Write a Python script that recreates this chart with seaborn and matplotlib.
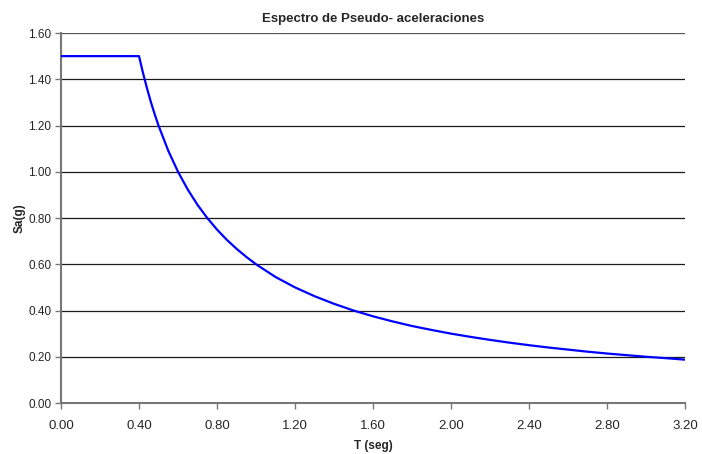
import matplotlib
matplotlib.use("Agg")
import matplotlib.pyplot as plt
import seaborn as sns
import pandas as pd

periodo = [0.00, 0.40, 0.42, 0.44, 0.46, 0.48, 0.50, 0.55, 0.60, 0.65, 0.70, 0.75, 0.80, 0.85,
           0.90, 0.95, 1.00, 1.10, 1.20, 1.30, 1.40, 1.50, 1.60, 1.70, 1.80, 1.90, 2.00, 2.10,
           2.20, 2.30, 2.40, 2.50, 2.60, 2.70, 2.80, 2.90, 3.00, 3.10, 3.20]
sa = [1.500, 1.500, 1.429, 1.364, 1.304, 1.250, 1.200, 1.091, 1.000, 0.923, 0.857, 0.800, 0.750, 0.706,
      0.667, 0.632, 0.600, 0.545, 0.500, 0.462, 0.429, 0.400, 0.375, 0.353, 0.333, 0.316, 0.300, 0.286,
      0.273, 0.261, 0.250, 0.240, 0.231, 0.222, 0.214, 0.207, 0.200, 0.194, 0.1875]
x_ticks = [0.00, 0.40, 0.80, 1.20, 1.60, 2.00, 2.40, 2.80, 3.20]
y_ticks = [0.00, 0.20, 0.40, 0.60, 0.80, 1.00, 1.20, 1.40, 1.60]

df = pd.DataFrame({"T": periodo, "Sa": sa})

sns.set_theme(style="white")
plt.rcParams["font.family"] = ["Liberation Sans", "DejaVu Sans"]

fig = plt.figure(figsize=(7.02, 4.54), dpi=100)
ax = fig.add_axes([0.0869, 0.1123, 0.8889, 0.8150])

for y in y_ticks[1:]:
    ax.axhline(y, color="#1a1a1a" if y < 1.6 else "#555555", lw=0.9, zorder=1)

sns.lineplot(data=df, x="T", y="Sa", ax=ax, color="#0000ff", lw=1.6, zorder=3)

ax.set_xlim(0, 3.2)
ax.set_ylim(0, 1.6)
ax.set_xticks(x_ticks)
ax.set_xticklabels([f"{v:.2f}" for v in x_ticks], fontsize=9.5)
ax.set_yticks(y_ticks)
ax.set_yticklabels([f"{v:.2f}" for v in y_ticks], fontsize=8.5)
ax.tick_params(axis="both", direction="out", length=4, width=1, color="#777777",
               bottom=True, left=True, pad=3)
ax.tick_params(axis="x", pad=8)

for s in ["top", "right"]:
    ax.spines[s].set_visible(False)
for s in ["left", "bottom"]:
    ax.spines[s].set_color("#777777")
    ax.spines[s].set_linewidth(1.5)

ax.set_xlabel("T (seg)", fontsize=8.5, fontweight="bold", labelpad=6)
ax.set_ylabel("Sa(g)", fontsize=8.5, fontweight="bold", labelpad=2)
ax.set_title("Espectro de Pseudo- aceleraciones", fontsize=9.5, fontweight="bold", pad=8)

fig.savefig("out.png", dpi=100)
